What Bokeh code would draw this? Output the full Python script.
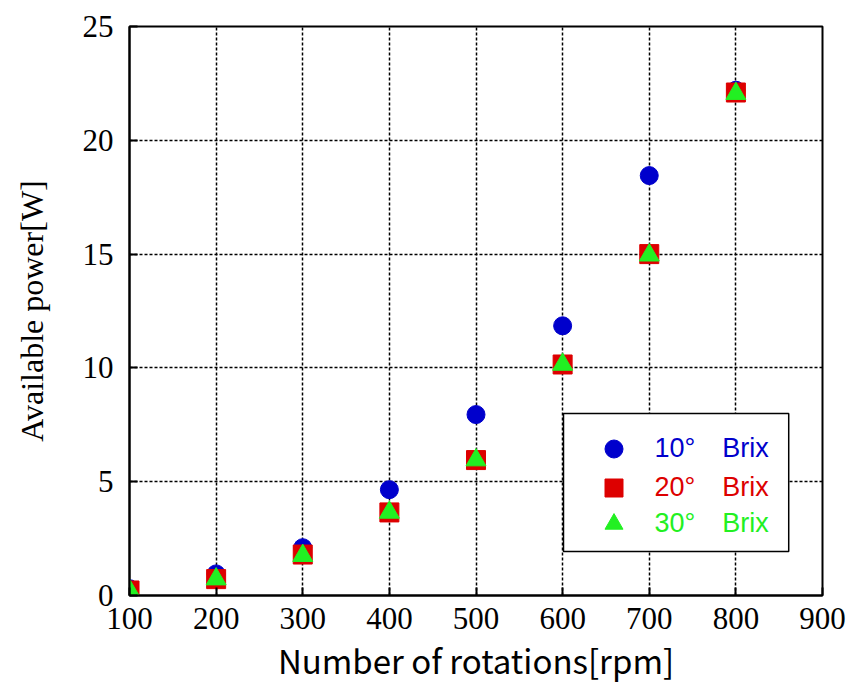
from bokeh.plotting import figure
from bokeh.models import (FixedTicker, Range1d, Legend, LegendItem, BoxAnnotation)
from bokeh.embed import file_html
from bokeh.resources import INLINE

# ---- data ----
rpm = [100, 200, 300, 400, 500, 600, 700, 800]
brix10 = [0.3, 0.95, 2.1, 4.65, 7.95, 11.85, 18.45, 22.2]
brix20 = [0.22, 0.72, 1.8, 3.65, 5.95, 10.15, 15.0, 22.1]
brix30 = [0.22, 0.72, 1.75, 3.65, 5.95, 10.15, 14.95, 22.05]
series_labels = ["10°\u3000Brix", "20°\u3000Brix", "30°\u3000Brix"]
x_ticks = [100, 200, 300, 400, 500, 600, 700, 800, 900]
y_ticks = [0, 5, 10, 15, 20, 25]

BLUE = "#0000CC"
RED = "#DD0000"
GREEN = "#22F022"

p = figure(width=851, height=697, output_backend="svg", toolbar_location=None,
           x_range=Range1d(100, 900), y_range=Range1d(0, 25))
p.min_border_left = 129
p.min_border_right = 29
p.min_border_top = 26
p.min_border_bottom = 102
p.background_fill_color = "white"
p.border_fill_color = "white"
p.outline_line_color = "black"
p.outline_line_width = 2

# axes
p.xaxis.ticker = FixedTicker(ticks=x_ticks)
p.yaxis.ticker = FixedTicker(ticks=y_ticks)
for ax in (p.xaxis[0], p.yaxis[0]):
    ax.axis_line_color = "black"
    ax.axis_line_width = 2
    ax.major_tick_in = 8
    ax.major_tick_out = 0
    ax.major_tick_line_width = 2
    ax.minor_tick_line_color = None
    ax.major_label_text_font = "Liberation Serif"
    ax.major_label_text_font_size = "31px"
    ax.major_label_text_color = "black"
    ax.axis_label_text_color = "black"
    ax.axis_label_text_font_style = "normal"

p.xaxis.axis_label = "Number of rotations[rpm]"
p.xaxis.axis_label_text_font = "Noto Sans CJK JP"
p.xaxis.axis_label_text_font_size = "33px"
p.xaxis.major_label_standoff = 12
p.xaxis.axis_label_standoff = 4

p.yaxis.axis_label = "Available power[W]"
p.yaxis.axis_label_text_font = "Liberation Serif"
p.yaxis.axis_label_text_font_size = "32px"
p.yaxis.major_label_standoff = 16
p.yaxis.axis_label_standoff = 30

# grid
for g in (p.xgrid[0], p.ygrid[0]):
    g.grid_line_color = "black"
    g.grid_line_width = 1.5
    g.grid_line_dash = "3 2"

# data
r1 = p.scatter(rpm, brix10, marker="circle", size=18, fill_color=BLUE, line_color=BLUE)
r2 = p.scatter(rpm, brix20, marker="square", size=19, fill_color=RED, line_color=RED)
r3 = p.scatter(rpm, brix30, marker="triangle", size=20, fill_color=GREEN, line_color=GREEN)

# legend frame
box = BoxAnnotation(left=601, right=861, top=8.0, bottom=1.93,
                    fill_color="white", fill_alpha=1.0,
                    line_color="black", line_alpha=1.0, line_width=1.5)
p.add_layout(box)

rows = [(r1, series_labels[0], BLUE, 124.5),
        (r2, series_labels[1], RED, 85.5),
        (r3, series_labels[2], GREEN, 49.5)]
for rend, lab, col, vy in rows:
    lg = Legend(items=[LegendItem(label=lab, renderers=[rend])],
                location=(461.5, vy))
    lg.glyph_width = 45
    lg.glyph_height = 45
    lg.padding = 0
    lg.margin = 0
    lg.spacing = 0
    lg.label_standoff = 19
    lg.border_line_color = None
    lg.background_fill_alpha = 0
    lg.label_text_color = col
    lg.label_text_font = "Liberation Sans"
    lg.label_text_font_size = "27px"
    lg.label_text_baseline = "middle"
    p.add_layout(lg, "center")

open("out.html", "w").write(file_html(p, INLINE))
